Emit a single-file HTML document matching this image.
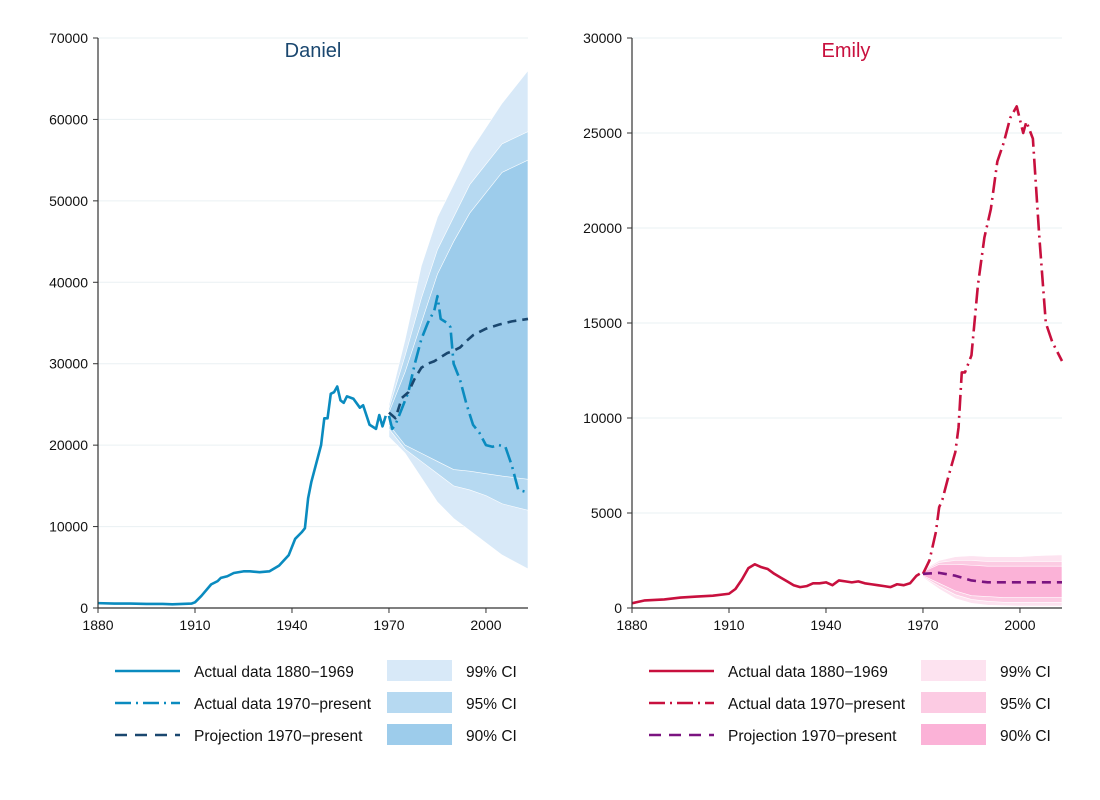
<!DOCTYPE html>
<html><head><meta charset="utf-8"><style>
body{margin:0;background:#fff;}
svg{display:block;font-family:"Liberation Sans",sans-serif;}
</style></head><body>
<svg id="c" width="1100" height="800" viewBox="0 0 1100 800"></svg>
<script>
// Daniel data
const dYearsA=[1880,1885,1890,1895,1900,1903,1906,1909,1910,1912,1915,1917,1918,1920,1922,1925,1927,1930,1933,1936,1939,1941,1943,1944,1945,1946,1948,1949,1950,1951,1952,1953,1954,1955,1956,1957,1959,1961,1962,1964,1966,1967,1968,1969];
const dValsA=[600,550,550,500,500,450,500,550,700,1500,2900,3300,3700,3900,4300,4500,4500,4400,4500,5200,6500,8500,9300,9800,13500,15500,18500,20000,23300,23300,26300,26500,27200,25500,25200,26000,25700,24600,24900,22500,22000,23700,22300,23600];
const dYearsB=[1970,1971,1972,1974,1976,1978,1980,1982,1984,1985,1986,1988,1989,1990,1992,1994,1996,1998,2000,2002,2004,2006,2008,2010,2013];
const dValsB=[23600,22000,22500,24500,26500,30000,33000,35000,36500,38300,35500,35000,34500,30000,28000,25000,22500,21500,20000,19800,20000,19800,17500,14500,14200];
const dYearsP=[1970,1972,1974,1976,1978,1980,1982,1984,1986,1988,1990,1992,1994,1996,1998,2000,2004,2008,2013];
const dValsP=[24000,23300,25800,26500,28200,29500,30000,30300,30800,31300,31600,32000,32800,33500,33900,34300,34800,35200,35500];
const ciYears=[1970,1975,1980,1985,1990,1995,2000,2005,2013];
const dCI99u=[25000,33000,42000,48000,52000,56000,59000,62000,66000];
const dCI99l=[21000,19000,16000,13000,11000,9500,8000,6500,4800];
const dCI95u=[24500,31000,38000,44000,48000,52000,54500,57000,58500];
const dCI95l=[22000,19500,18000,16500,15000,14500,13800,12800,12000];
const dCI90u=[24000,29000,35000,41000,45000,48500,51000,53500,55000];
const dCI90l=[22500,20000,19000,18000,17000,16800,16500,16200,15800];
const dTicks=[0,10000,20000,30000,40000,50000,60000,70000];
// Emily data
const eYearsA=[1880,1884,1890,1895,1900,1905,1910,1912,1914,1916,1918,1920,1922,1924,1926,1928,1930,1932,1934,1936,1938,1940,1942,1944,1946,1948,1950,1952,1954,1956,1958,1960,1962,1964,1966,1968,1969];
const eValsA=[250,400,450,550,600,650,750,1000,1500,2100,2300,2150,2050,1800,1600,1400,1200,1100,1150,1300,1300,1350,1200,1450,1400,1350,1400,1300,1250,1200,1150,1100,1250,1200,1300,1700,1800];
const eYearsB=[1970,1972,1974,1975,1976,1978,1980,1981,1982,1983,1985,1987,1989,1991,1993,1995,1997,1999,2001,2002,2004,2006,2008,2010,2013];
const eValsB=[1800,2500,4000,5300,5700,7000,8200,9500,12400,12400,13300,17000,19500,21000,23500,24500,25800,26400,25000,25600,24700,19500,15000,14000,13000];
const eYearsP=[1970,1975,1980,1985,1990,2000,2013];
const eValsP=[1800,1850,1700,1450,1350,1350,1350];
const eCI99u=[2000,2500,2700,2750,2700,2700,2700,2750,2800];
const eCI99l=[1600,1000,500,250,150,120,100,100,100];
const eCI95u=[1950,2400,2500,2500,2450,2450,2450,2450,2450];
const eCI95l=[1650,1150,700,450,350,300,300,300,300];
const eCI90u=[1900,2300,2300,2250,2200,2200,2200,2200,2200];
const eCI90l=[1700,1300,900,650,600,550,550,550,550];
const eTicks=[0,5000,10000,15000,20000,25000,30000];
const xTicks=[1880,1910,1940,1970,2000];

const NS='http://www.w3.org/2000/svg';
const svg=document.getElementById('c');
function mk(tag,attrs,parent){const e=document.createElementNS(NS,tag);for(const k in attrs)e.setAttribute(k,attrs[k]);(parent||svg).appendChild(e);return e;}

function panel(o){
  const g=mk('g',{});
  
  
  const x=v=>o.x0+(v-1880)*3.233;
  const y=v=>608-v*o.ky;
  const xEnd=x(2013);
  o.ticks.forEach(t=>{
    const gl=mk('line',{x1:o.x0,x2:xEnd,y1:y(t),y2:y(t),stroke:'#eaf0f3','stroke-width':1},g);
    
    
    const tk=mk('line',{x1:o.x0-5,x2:o.x0,y1:y(t),y2:y(t),stroke:'#333'},g);
    
    
    const tl=mk('text',{x:o.x0-10,y:y(t)+5,'text-anchor':'end','font-size':14,fill:'#111'},g);
    tl.textContent=t;
    
    
  });
  const band=(u,l,c,n)=>{
    let pts=ciYears.map((yr,i)=>x(yr)+','+y(u[i]));
    pts=pts.concat(ciYears.slice().reverse().map((yr,i)=>x(yr)+','+y(l[l.length-1-i])));
    const p=mk('polygon',{points:pts.join(' '),fill:c,stroke:'#fff','stroke-width':0.6},g);
    
    
  };
  band(o.ci99u,o.ci99l,o.c99,'ci-99-band');
  band(o.ci95u,o.ci95l,o.c95,'ci-95-band');
  band(o.ci90u,o.ci90l,o.c90,'ci-90-band');
  const line=(ys,vs,c,dash,n)=>{
    const d=ys.map((yr,i)=>(i?'L':'M')+x(yr)+','+y(vs[i])).join(' ');
    const p=mk('path',{d:d,fill:'none',stroke:c,'stroke-width':2.6,'stroke-dasharray':dash,'stroke-linejoin':'round'},g);
    
    
  };
  line(o.yA,o.vA,o.cA,'none','actual-1880-1969-line');
  line(o.yB,o.vB,o.cA,'16 5 2 5','actual-1970-present-line');
  line(o.yP,o.vP,o.cP,'9 6','projection-line');
  const ax=mk('line',{x1:o.x0,x2:o.x0,y1:38,y2:608,stroke:'#333','stroke-width':1.2},g);
  
  
  const axx=mk('line',{x1:o.x0,x2:xEnd,y1:608,y2:608,stroke:'#333','stroke-width':1.2},g);
  
  
  xTicks.forEach(t=>{
    const tk=mk('line',{x1:x(t),x2:x(t),y1:608,y2:613,stroke:'#333'},g);
    
    
    const tl=mk('text',{x:x(t),y:630,'text-anchor':'middle','font-size':14,fill:'#111'},g);
    tl.textContent=t;
    
    
  });
  const ti=mk('text',{x:o.tx,y:57,'text-anchor':'middle','font-size':20,fill:o.tc},g);
  ti.textContent=o.title;
  
  
  // legend
  const L=o.x0+17;
  const labels=['Actual data 1880\u22121969','Actual data 1970\u2212present','Projection 1970\u2212present'];
  const cols=[o.cA,o.cA,o.cP];const dashes=['none','16 5 2 5','12 8'];
  const ci=['99% CI','95% CI','90% CI'];const cc=[o.c99,o.c95,o.c90];
  for(let i=0;i<3;i++){
    const yy=671+i*32;
    const s=mk('line',{x1:L,x2:L+65,y1:yy,y2:yy,stroke:cols[i],'stroke-width':2.6,'stroke-dasharray':dashes[i]},g);
    
    
    const t=mk('text',{x:L+79,y:yy+6,'font-size':15.5,fill:'#111'},g);
    t.textContent=labels[i];
    
    
    const r=mk('rect',{x:L+272,y:yy-11,width:65,height:21,fill:cc[i]},g);
    
    
    const t2=mk('text',{x:L+351,y:yy+6,'font-size':15.5,fill:'#111'},g);
    t2.textContent=ci[i];
    
    
  }
}
panel({name:'daniel',x0:98,ky:570/70000,ticks:dTicks,yA:dYearsA,vA:dValsA,yB:dYearsB,vB:dValsB,yP:dYearsP,vP:dValsP,
  ci99u:dCI99u,ci99l:dCI99l,ci95u:dCI95u,ci95l:dCI95l,ci90u:dCI90u,ci90l:dCI90l,
  c99:'#d8e9f8',c95:'#b6d9f1',c90:'#9dcceb',cA:'#0a8bbf',cP:'#1a476f',title:'Daniel',tx:313,tc:'#1a476f'});
panel({name:'emily',x0:632,ky:570/30000,ticks:eTicks,yA:eYearsA,vA:eValsA,yB:eYearsB,vB:eValsB,yP:eYearsP,vP:eValsP,
  ci99u:eCI99u,ci99l:eCI99l,ci95u:eCI95u,ci95l:eCI95l,ci90u:eCI90u,ci90l:eCI90l,
  c99:'#fde3f0',c95:'#fccbe3',c90:'#fbb2d7',cA:'#c8103e',cP:'#7b1480',title:'Emily',tx:846,tc:'#c8103e'});
</script>
</body></html>
